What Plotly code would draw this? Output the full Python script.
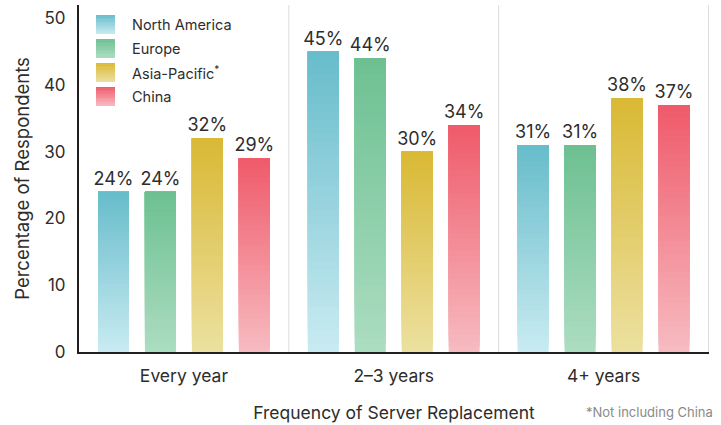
import plotly.graph_objects as go

# Survey results: share of respondents by server replacement frequency
categories = ["Every year", "2–3 years", "4+ years"]
regions = ["North America", "Europe", "Asia-Pacific<sup>*</sup>", "China"]
north_america = [24, 45, 31]
europe = [24, 44, 31]
asia_pacific = [32, 30, 38]
china = [29, 34, 37]
series = [north_america, europe, asia_pacific, china]

# gradient end colours per region: (top, bottom)
gradients = [
    ((103, 188, 203), (201, 235, 241)),
    ((109, 192, 146), (172, 221, 193)),
    ((217, 185, 52), (236, 224, 160)),
    ((239, 90, 106), (247, 187, 193)),
]

FONT = "Inter"
TEXT = "#2d2d2d"
N_STEPS = 40


def mix(c_top, c_bot, t):
    """t = 0 -> bottom colour, t = 1 -> top colour."""
    r, g, b = (round(c_bot[i] + (c_top[i] - c_bot[i]) * t) for i in range(3))
    return f"rgb({r},{g},{b})"


fig = go.Figure()

# Each bar is painted as overlapping layers that shade from light (base) to dark (top)
for gi, (vals, (top, bot)) in enumerate(zip(series, gradients)):
    for k in range(N_STEPS):
        frac = k / N_STEPS
        last = k == N_STEPS - 1
        fig.add_trace(go.Bar(
            x=categories,
            y=[v * (1 - frac) for v in vals],
            base=[v * frac for v in vals],
            offsetgroup=str(gi),
            marker=dict(color=mix(top, bot, (k + 0.5) / N_STEPS), line=dict(width=0)),
            text=[f"{v}%" for v in vals] if last else None,
            textposition="outside" if last else "none",
            constraintext="none",
            textfont=dict(family=FONT, size=18, color=TEXT),
            cliponaxis=False,
            showlegend=False,
            hoverinfo="skip",
        ))

shapes = []
# light separators between the category groups and on the right edge
for xpos in (0.5, 1.5, 2.5):
    shapes.append(dict(type="line", xref="x", yref="paper", x0=xpos, x1=xpos, y0=0, y1=1,
                       line=dict(color="#dcdcdc", width=1), layer="below"))

# legend swatches (gradient squares) and labels
annotations = []
SW = 19
PITCH = 24
for i, (name, (top, bot)) in enumerate(zip(regions, gradients)):
    y_top = -10 - i * PITCH
    n = 12
    for k in range(n):
        y0 = y_top - SW + SW * k / n
        y1 = y_top - SW + SW * (k + 1) / n + 0.5
        shapes.append(dict(type="rect", xref="paper", yref="paper",
                           xsizemode="pixel", ysizemode="pixel", xanchor=0, yanchor=1,
                           x0=17, x1=36, y0=y0, y1=min(y1, y_top),
                           fillcolor=mix(top, bot, (k + 0.5) / n), line=dict(width=0)))
    annotations.append(dict(xref="paper", yref="paper", x=0, y=1, xshift=51,
                            yshift=y_top - SW / 2, xanchor="left", yanchor="middle",
                            text=name, showarrow=False,
                            font=dict(family=FONT, size=14.5, color=TEXT)))

annotations.append(dict(xref="paper", yref="paper", x=1, y=0, xshift=6, yshift=-60,
                        xanchor="right", yanchor="middle", text="*Not including China",
                        showarrow=False, font=dict(family=FONT, size=13, color="#8a8a8a")))

fig.update_layout(
    width=721, height=425,
    margin=dict(l=79, r=12, t=5, b=73),
    plot_bgcolor="white", paper_bgcolor="white",
    barmode="group", bargap=0.105, bargroupgap=0.34,
    font=dict(family=FONT, color=TEXT),
    shapes=shapes, annotations=annotations,
    showlegend=False,
)
fig.update_xaxes(
    showline=True, linecolor="#231f20", linewidth=2, showgrid=False,
    ticks="outside", ticklen=7, tickcolor="rgba(0,0,0,0)",
    tickfont=dict(family=FONT, size=17.5, color=TEXT),
    title=dict(text="Frequency of Server Replacement", standoff=22,
               font=dict(family=FONT, size=17.5, color=TEXT)),
)
fig.update_yaxes(
    range=[0, 52], showline=True, linecolor="#231f20", linewidth=2, showgrid=False,
    zeroline=False, tickvals=[0, 10, 20, 30, 40, 50], ticks="outside", ticklen=8,
    tickcolor="rgba(0,0,0,0)",
    tickfont=dict(family=FONT, size=17, color=TEXT),
    title=dict(text="Percentage of Respondents", standoff=9,
               font=dict(family=FONT, size=18.5, color=TEXT)),
)

fig.write_html("out.html")
